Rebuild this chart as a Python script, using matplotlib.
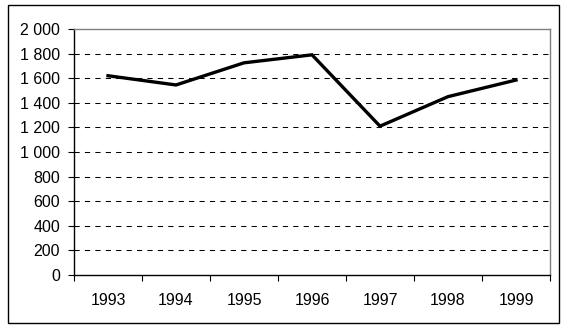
import matplotlib
matplotlib.use("Agg")
import matplotlib.pyplot as plt
from matplotlib.patches import Rectangle
from matplotlib.ticker import FuncFormatter
import numpy as np

years = ["1993", "1994", "1995", "1996", "1997", "1998", "1999"]
values = [1620, 1545, 1725, 1790, 1210, 1450, 1585]
yticks = [0, 200, 400, 600, 800, 1000, 1200, 1400, 1600, 1800, 2000]

plt.rcParams["font.family"] = ["Liberation Sans", "DejaVu Sans"]

fig = plt.figure(figsize=(5.65, 3.29), dpi=100)
# outer chart frame
fig.patches.append(Rectangle((8 / 565, 1 - 323 / 329), 551 / 565, 318 / 329,
                             transform=fig.transFigure, fill=False,
                             edgecolor="black", lw=1.0))
ax = fig.add_axes([74 / 565, 1 - 275 / 329, 476 / 565, 246 / 329])

x = np.arange(len(years))
ax.plot(x, values, color="black", lw=2.4, solid_joinstyle="miter")

ax.set_xlim(-0.5, len(years) - 0.5)
ax.set_ylim(0, 2000)
ax.set_yticks(yticks)
ax.yaxis.set_major_formatter(FuncFormatter(lambda v, p: f"{int(v):,}".replace(",", " ")))
for t in yticks[1:-1]:
    ax.axhline(t, color="black", lw=0.75, ls=(0, (5, 5)), zorder=0)

ax.set_xticks(np.arange(len(years) + 1) - 0.5)
ax.set_xticklabels([])
ax.set_xticks(x, minor=True)
ax.set_xticklabels(years, minor=True)
ax.tick_params(axis="x", which="minor", length=0, pad=13, labelsize=11.5)
ax.tick_params(axis="x", which="major", direction="out", length=4, width=0.8)
ax.tick_params(axis="y", direction="out", length=4, width=0.8, labelsize=11.5, pad=6)

for s in ["top", "right"]:
    ax.spines[s].set_color("#808080")
    ax.spines[s].set_linewidth(1.0)
for s in ["left", "bottom"]:
    ax.spines[s].set_color("black")
    ax.spines[s].set_linewidth(1.0)

fig.savefig("out.png", dpi=100)
